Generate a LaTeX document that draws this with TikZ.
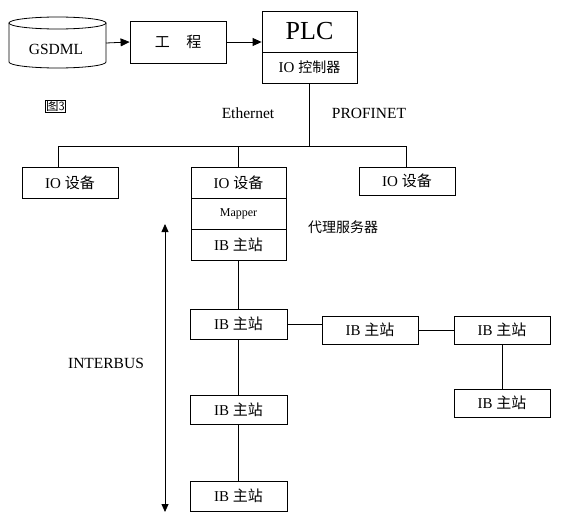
\documentclass[tikz,border=0pt]{standalone}
\usepackage{fontspec}
\setmainfont{Liberation Serif}
\newfontfamily\cjk{Noto Sans CJK SC}
\usetikzlibrary{arrows.meta}
\begin{document}
\begin{tikzpicture}[x=1pt,y=-1pt,
  box/.style={draw,line width=0.8pt,rectangle,inner sep=0pt,font=\fontsize{15}{17}\selectfont},
  conn/.style={line width=0.8pt},
  arr/.style={line width=0.8pt,-{Triangle[length=9pt,width=8pt]}},
  lbl/.style={inner sep=0pt,font=\fontsize{15.5}{17}\selectfont}]
\useasboundingbox (0,0) rectangle (561,516);
% cylinder
\draw[line width=0.8pt,fill=white] (9,23) -- (9,62) arc[start angle=180,end angle=360,x radius=48.5,y radius=-6] -- (106,23);
\draw[line width=0.8pt] (57.5,23) ellipse[x radius=48.5,y radius=6];
\node[lbl] (gsd) at (56,49) {GSDML};
\coordinate (cylE) at (106,43);
% engineering
\node[box,minimum width=96pt,minimum height=42pt] (eng) at (178,42) {{\cjk 工\hspace{1.1em}程}};
% PLC
\node[box,minimum width=95pt,minimum height=41pt,font=\fontsize{26}{28}\selectfont] (plc) at (309.5,31.5) {PLC};
\node[box,minimum width=95pt,minimum height=31pt] (plcb) at (309.5,67.5) {IO {\cjk\fontsize{14}{16}\selectfont 控制器}};
\draw[arr] (cylE) -- (eng.west);
\draw[arr] (eng.east) -- (eng.east -| plc.west);
% fig label
\node[draw,line width=0.7pt,inner xsep=1pt,inner ysep=0.5pt,font=\fontsize{12.5}{13}\selectfont] (fig) at (55.5,106) {{\cjk 图}\textsf{3}};
% labels
\node[lbl] (eth) at (248,113) {Ethernet};
\node[lbl] (pn) at (369,113) {PROFINET};
% IO devices
\node[box,minimum width=96pt,minimum height=31pt] (io1) at (70,182.5) {IO {\cjk 设备}};
\node[box,minimum width=95pt,minimum height=31pt] (io2) at (238.5,182.5) {IO {\cjk 设备}};
\node[box,minimum width=95pt,minimum height=31pt,font=\fontsize{12}{14}\selectfont] (map) at (238.5,213.5) {Mapper};
\node[box,minimum width=95pt,minimum height=31pt] (ibm0) at (238.5,244.5) {IB {\cjk 主站}};
\node[box,minimum width=96pt,minimum height=28pt] (io3) at (407,181) {IO {\cjk 设备}};
\node[lbl,font=\fontsize{14}{16}\selectfont] (proxy) at (343,227) {{\cjk 代理服务器}};
% bus
\coordinate (bus) at (309.5,146);
\coordinate (busL) at (58,146);
\coordinate (busR) at (406,146);
\draw[conn] (plcb.south) -- (bus);
\draw[conn] (busL |- io1.north) -- (busL) -- (busR) -- (busR |- io3.north);
\draw[conn] (io2.north) -- (io2.north |- bus);
% interbus
\node[box,minimum width=97pt,minimum height=30pt] (ib1) at (238.5,324) {IB {\cjk 主站}};
\node[box,minimum width=96pt,minimum height=28pt] (ib4) at (370,330) {IB {\cjk 主站}};
\node[box,minimum width=96pt,minimum height=28pt] (ib5) at (502,330) {IB {\cjk 主站}};
\node[box,minimum width=96pt,minimum height=28pt] (ib6) at (502,403) {IB {\cjk 主站}};
\node[box,minimum width=97pt,minimum height=29pt] (ib2) at (238.5,409.5) {IB {\cjk 主站}};
\node[box,minimum width=97pt,minimum height=30pt] (ib3) at (238.5,496) {IB {\cjk 主站}};
\draw[conn] (ibm0.south) -- (ib1.north);
\draw[conn] (ib1.south) -- (ib2.north);
\draw[conn] (ib2.south) -- (ib3.north);
\draw[conn] (ib1.east) -- (ib1.east -| ib4.west);
\draw[conn] (ib4.east) -- (ib5.west);
\draw[conn] (ib5.south) -- (ib6.north);
% double arrow
\coordinate (at) at (165,224);
\coordinate (ab) at (165,512);
\draw[line width=0.8pt,{Triangle[length=8pt,width=7pt]}-{Triangle[length=8pt,width=7pt]}] (at) -- (ab);
\node[lbl] (ib) at (106,363) {INTERBUS};
\end{tikzpicture}
\end{document}
